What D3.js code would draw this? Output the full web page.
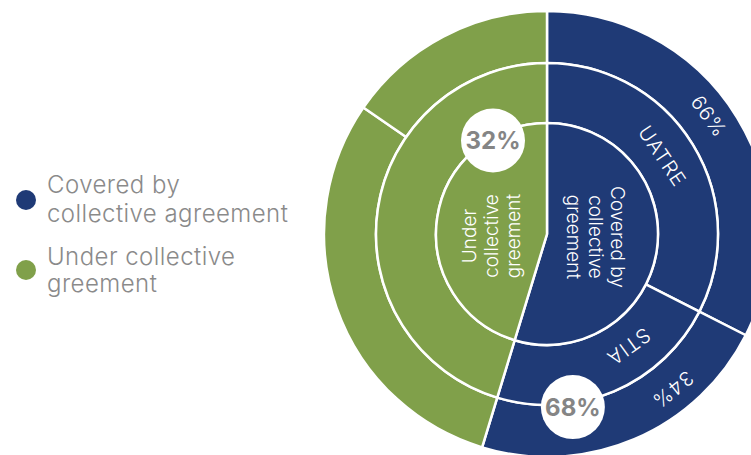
<!DOCTYPE html>
<html>
<head>
<meta charset="utf-8">
<script src="https://cdn.jsdelivr.net/npm/d3@7"></script>
<style>
  body { margin: 0; background: #fff; }
  svg { display: block; font-family: Inter, "Noto Sans", sans-serif; }
</style>
</head>
<body>
<svg id="chart" width="751" height="455"></svg>
<script>
// arc sweeps (% of full circle); the printed labels don't match them
const innerNames = [["Covered by", "collective", "greement"], ["Under", "collective", "greement"]]
const innerShares = [54.7, 45.3]
const innerBadges = ["68%", "32%"]

const middleNames = ["UATRE", "STIA", ""]
const middleShares = [32.5, 22.2, 45.3]

const outerLabels = ["66%", "34%", "", ""]
const outerShares = [32.5, 22.2, 29.9, 15.4]

const legendNames = [["Covered by", "collective agreement"], ["Under collective", "greement"]]

const blue = "#1f3a76"
const green = "#80a04a"
const middleColors = [blue, blue, green]
const outerColors = [blue, blue, green, green]
const innerColors = [blue, green]

// layout
const cx = 547, cy = 234
const r0 = 111, r1 = 171, r2 = 223
const deg = Math.PI / 180

const svg = d3.select("#chart")
const g = svg.append("g").attr("transform", `translate(${cx},${cy})`)

const pie = d3.pie().sort(null).value(d => d)

function ring(shares, colors, rIn, rOut) {
  const arc = d3.arc().innerRadius(rIn).outerRadius(rOut)
  g.append("g").selectAll("path")
    .data(pie(shares))
    .join("path")
      .attr("d", arc)
      .attr("fill", (d, i) => colors[i])
      .attr("stroke", "#fff")
      .attr("stroke-width", 2.5)
}

ring(outerShares, outerColors, r1, r2)
ring(middleShares, middleColors, r0, r1)
ring(innerShares, innerColors, 0, r0)

// curved-ring labels, rotated along the tangent
function ringText(txt, angle, r, size) {
  const a = angle * deg
  g.append("text")
    .attr("transform", `translate(${r * Math.sin(a)},${-r * Math.cos(a)}) rotate(${angle})`)
    .attr("text-anchor", "middle")
    .attr("dominant-baseline", "central")
    .attr("fill", "#fff")
    .style("font-size", size + "px")
    .style("font-weight", 300)
    .style("letter-spacing", "1px")
    .text(txt)
}
const middleLabelAngles = [56, 144]
const outerLabelAngles = [54, 141]
middleNames.forEach((t, i) => { if (t) ringText(t, middleLabelAngles[i], 139, 20) })
outerLabels.forEach((t, i) => { if (t) ringText(t, outerLabelAngles[i], 200, 20) })

// inner rotated multi-line labels
const innerPos = [{ x: 48, y: 3, rot: 90 }, { x: -56, y: 2, rot: -90 }]
innerNames.forEach((lines, i) => {
  const p = innerPos[i]
  const t = g.append("text")
    .attr("transform", `translate(${p.x},${p.y}) rotate(${p.rot})`)
    .attr("text-anchor", "middle")
    .attr("fill", "#fff")
    .style("font-size", "19px")
    .style("font-weight", 300)
  lines.forEach((l, j) => {
    t.append("tspan")
      .attr("x", 0)
      .attr("y", (j - 1) * 22)
      .attr("dominant-baseline", "central")
      .text(l)
  })
})

// white badges on ring edges
const badgeSpots = [{ angle: 171.5, r: 175 }, { angle: 330, r: 108 }]
innerBadges.forEach((b, i) => {
  const a = badgeSpots[i].angle * deg, r = badgeSpots[i].r
  const x = r * Math.sin(a), y = -r * Math.cos(a)
  g.append("circle").attr("cx", x).attr("cy", y).attr("r", 32).attr("fill", "#fff")
  g.append("text")
    .attr("x", x).attr("y", y)
    .attr("text-anchor", "middle")
    .attr("dominant-baseline", "central")
    .attr("fill", "#858585")
    .style("font-size", "24px")
    .style("font-weight", 700)
    .text(b)
})

// legend
const legend = svg.append("g")
const legendBaselines = [[193, 222], [265, 292]]
legendNames.forEach((lines, i) => {
  legend.append("circle").attr("cx", 26).attr("cy", 200 + i * 70).attr("r", 10).attr("fill", innerColors[i])
  lines.forEach((l, j) => {
    legend.append("text")
      .attr("x", 47)
      .attr("y", legendBaselines[i][j])
      .attr("fill", "#8a8a8a")
      .style("font-size", "24px")
      .style("font-weight", 300)
      .style("letter-spacing", "0.45px")
      .text(l)
  })
})
</script>
</body>
</html>
